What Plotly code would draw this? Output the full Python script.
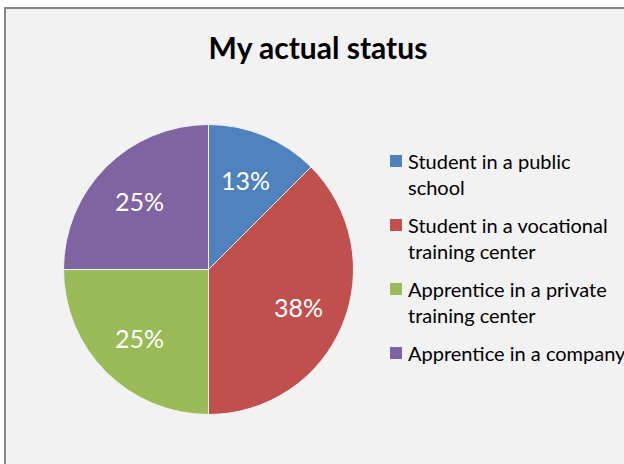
import math
import plotly.graph_objects as go

# Survey answers: current status of respondents (share of total, %)
labels = [
    "Student in a public<br>school",
    "Student in a vocational<br>training center",
    "Apprentice in a private<br>training center",
    "Apprentice in a company",
]
shares = [12.5, 37.5, 25.0, 25.0]
colors = ["#4f81bd", "#c0504d", "#9bbb59", "#8064a2"]

W, H = 624, 464
FONT = "Lato"

# pie geometry in pixels (paper coordinates with zero margins)
CX, CY, R = 208.5, 269.5, 145.0


def px_x(x):
    return x / W


def px_y(y):
    return 1 - y / H


fig = go.Figure(
    go.Pie(
        labels=labels,
        values=shares,
        sort=False,
        direction="clockwise",
        rotation=0,
        marker=dict(colors=colors, line=dict(color="#f2f2f2", width=1)),
        textinfo="none",
        hovertemplate="%{label}: %{percent:.0%}<extra></extra>",
        showlegend=False,
        domain=dict(x=[px_x(CX - R), px_x(CX + R)], y=[px_y(CY + R), px_y(CY - R)]),
    )
)

annotations = []
shapes = [
    # chart area background with its frame
    dict(
        type="rect", xref="paper", yref="paper",
        x0=px_x(5), x1=1.2, y0=-0.2, y1=px_y(8),
        fillcolor="#f2f2f2", line=dict(color="#878787", width=2),
        layer="below",
    )
]

# percentage labels placed on each slice's bisector
total = sum(shares)
start = 0.0
for v in shares:
    frac = v / total
    mid = (start + frac / 2) * 2 * math.pi
    start += frac
    rr = 0.67 * R
    x = CX + rr * math.sin(mid)
    y = CY - rr * math.cos(mid)
    pct = math.floor(frac * 100 + 0.5)
    annotations.append(dict(
        x=px_x(x), y=px_y(y), xref="paper", yref="paper",
        text=f"{pct}%", showarrow=False,
        xanchor="center", yanchor="middle",
        font=dict(family=FONT, size=25, color="white"),
    ))

# legend: colour swatch + wrapped label for each slice
LINE = 26
for i, (name, c) in enumerate(zip(labels, colors)):
    y1 = 161 + i * 64
    nlines = name.count("<br>") + 1
    shapes.append(dict(
        type="rect", xref="paper", yref="paper",
        x0=px_x(390), x1=px_x(402), y0=px_y(y1 + 6), y1=px_y(y1 - 6),
        fillcolor=c, line=dict(width=0),
    ))
    annotations.append(dict(
        x=px_x(406), y=px_y(y1 + (nlines - 1) * LINE / 2),
        xref="paper", yref="paper",
        text=name, showarrow=False, align="left",
        xanchor="left", yanchor="middle",
        font=dict(family=FONT, size=20, color="black"),
    ))

fig.update_layout(
    width=W,
    height=H,
    margin=dict(l=0, r=0, t=0, b=0),
    paper_bgcolor="white",
    plot_bgcolor="white",
    font=dict(family=FONT, color="black"),
    title=dict(
        text="<b>My actual status</b>",
        x=px_x(318),
        xanchor="center",
        y=px_y(48),
        yanchor="middle",
        font=dict(family=FONT, size=30, color="black"),
    ),
    shapes=shapes,
    annotations=annotations,
)

fig.write_html("out.html")
